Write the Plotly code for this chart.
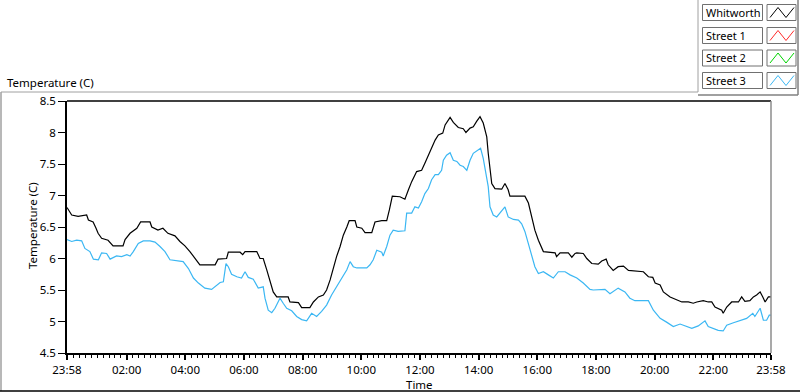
import pandas as pd
import plotly.graph_objects as go

# ---------------- data (hours elapsed since 23:58, temperature in C) ----------------
whitworth_hours = [0.00, 0.10, 0.16, 0.38, 0.67, 0.73, 0.89, 0.99, 1.06, 1.18, 1.40, 1.57, 1.91, 1.98,
                   2.15, 2.38, 2.51, 2.83, 2.89, 3.10, 3.27, 3.44, 3.68, 3.85, 4.02, 4.19, 4.36, 4.53,
                   5.05, 5.15, 5.44, 5.50, 5.90, 5.99, 6.07, 6.47, 6.58, 6.69, 6.81, 6.92, 7.03, 7.15,
                   7.54, 7.60, 7.89, 8.00, 8.28, 8.40, 8.57, 8.74, 8.85, 8.97, 9.08, 9.19, 9.31, 9.42,
                   9.54, 9.62, 9.82, 9.88, 10.05, 10.16, 10.39, 10.50, 10.73, 10.90, 10.99, 11.09,
                   11.35, 11.52, 11.64, 11.75, 11.92, 12.09, 12.20, 12.32, 12.43, 12.55, 12.66, 12.81,
                   12.89, 13.06, 13.17, 13.34, 13.51, 13.60, 13.74, 13.85, 13.97, 14.08, 14.19, 14.31,
                   14.36, 14.42, 14.48, 14.59, 14.82, 14.93, 15.04, 15.10, 15.61, 15.73, 15.84, 15.95,
                   16.07, 16.18, 16.24, 16.64, 16.69, 16.81, 17.09, 17.21, 17.32, 17.38, 17.60, 17.72,
                   17.89, 18.11, 18.23, 18.38, 18.45, 18.62, 18.79, 18.97, 19.14, 19.65, 19.82, 19.97,
                   20.05, 20.22, 20.33, 20.56, 20.79, 20.96, 21.18, 21.35, 21.47, 21.69, 21.86, 21.98,
                   22.09, 22.20, 22.32, 22.37, 22.49, 22.66, 22.89, 23.00, 23.11, 23.28, 23.40, 23.51,
                   23.63, 23.72, 23.80, 23.91, 24.00]
whitworth_temp = [6.81, 6.72, 6.69, 6.67, 6.69, 6.61, 6.58, 6.48, 6.40, 6.32, 6.29, 6.20, 6.20, 6.30,
                  6.40, 6.48, 6.58, 6.58, 6.50, 6.45, 6.48, 6.40, 6.36, 6.27, 6.20, 6.11, 6.00, 5.90,
                  5.90, 5.99, 6.00, 6.10, 6.10, 6.06, 6.11, 6.11, 6.00, 6.00, 5.82, 5.66, 5.47, 5.39,
                  5.39, 5.31, 5.30, 5.22, 5.22, 5.31, 5.39, 5.42, 5.50, 5.66, 5.87, 6.03, 6.19, 6.37,
                  6.50, 6.60, 6.60, 6.50, 6.48, 6.41, 6.41, 6.58, 6.60, 6.60, 6.77, 6.99,
                  6.98, 6.94, 7.09, 7.22, 7.38, 7.40, 7.51, 7.64, 7.75, 7.88, 7.96, 7.99,
                  8.12, 8.24, 8.16, 8.08, 8.06, 8.00, 8.07, 8.09, 8.18, 8.25, 8.15, 7.93,
                  7.67, 7.40, 7.19, 7.11, 7.10, 7.19, 7.09, 6.99, 6.99, 6.88, 6.66, 6.45,
                  6.29, 6.19, 6.11, 6.09, 6.03, 6.09, 6.09, 6.02, 6.08, 6.09, 6.08, 6.00,
                  5.92, 5.91, 5.96, 5.99, 5.90, 5.81, 5.87, 5.88, 5.81, 5.79, 5.71, 5.70,
                  5.61, 5.58, 5.47, 5.39, 5.34, 5.31, 5.31, 5.29, 5.31, 5.33, 5.31, 5.31,
                  5.23, 5.21, 5.18, 5.13, 5.23, 5.31, 5.31, 5.39, 5.32, 5.33, 5.39, 5.42,
                  5.47, 5.39, 5.31, 5.39, 5.39]

street3_hours = [0.00, 0.16, 0.33, 0.50, 0.61, 0.78, 0.90, 1.07, 1.18, 1.35, 1.47, 1.69, 1.86, 2.04,
                 2.15, 2.26, 2.43, 2.60, 2.83, 3.00, 3.17, 3.34, 3.51, 3.74, 3.96, 4.14, 4.31, 4.48,
                 4.70, 4.93, 5.05, 5.22, 5.33, 5.42, 5.50, 5.61, 5.79, 5.95, 6.07, 6.18, 6.35, 6.52,
                 6.69, 6.75, 6.86, 6.98, 7.09, 7.26, 7.37, 7.49, 7.66, 7.83, 8.00, 8.17, 8.34, 8.51,
                 8.68, 8.85, 9.02, 9.19, 9.36, 9.54, 9.65, 9.76, 9.88, 10.05, 10.22, 10.33, 10.44,
                 10.56, 10.73, 10.78, 10.90, 11.01, 11.12, 11.29, 11.52, 11.58, 11.75, 11.86, 11.98,
                 12.09, 12.20, 12.32, 12.43, 12.55, 12.66, 12.77, 12.83, 12.94, 13.06, 13.17, 13.29,
                 13.40, 13.51, 13.63, 13.74, 13.85, 14.02, 14.10, 14.19, 14.28, 14.36, 14.42, 14.53,
                 14.65, 14.76, 14.93, 15.04, 15.22, 15.39, 15.50, 15.61, 15.73, 15.84, 15.95, 16.07,
                 16.24, 16.41, 16.58, 16.75, 16.98, 17.15, 17.38, 17.60, 17.83, 17.94, 18.34, 18.51,
                 18.68, 18.79, 19.02, 19.19, 19.36, 19.82, 19.99, 20.22, 20.44, 20.67, 20.90, 21.07,
                 21.30, 21.52, 21.75, 21.86, 22.03, 22.20, 22.37, 22.49, 22.72, 22.94, 23.17, 23.38,
                 23.45, 23.63, 23.74, 23.85, 23.94, 24.00]
street3_temp = [6.30, 6.27, 6.29, 6.28, 6.16, 6.11, 5.99, 5.98, 6.09, 6.08, 5.99, 6.04, 6.03, 6.06,
                6.04, 6.11, 6.24, 6.28, 6.28, 6.26, 6.19, 6.11, 5.98, 5.97, 5.95, 5.84, 5.69, 5.61,
                5.53, 5.51, 5.55, 5.62, 5.63, 5.92, 5.87, 5.75, 5.71, 5.69, 5.79, 5.70, 5.67, 5.53,
                5.55, 5.37, 5.18, 5.14, 5.21, 5.37, 5.29, 5.21, 5.17, 5.08, 5.03, 5.01, 5.13, 5.08,
                5.16, 5.26, 5.42, 5.55, 5.66, 5.82, 5.95, 5.87, 5.85, 5.85, 5.85, 5.90, 5.98,
                6.13, 6.10, 6.04, 6.19, 6.37, 6.45, 6.43, 6.44, 6.72, 6.72, 6.82, 6.80,
                6.90, 7.03, 7.11, 7.25, 7.33, 7.33, 7.40, 7.56, 7.64, 7.68, 7.56, 7.54,
                7.48, 7.46, 7.40, 7.56, 7.67, 7.73, 7.75, 7.59, 7.38, 7.14, 6.82, 6.69,
                6.66, 6.72, 6.82, 6.66, 6.62, 6.61, 6.55, 6.43, 6.24, 6.03, 5.87, 5.76,
                5.79, 5.74, 5.69, 5.79, 5.79, 5.74, 5.69, 5.61, 5.51, 5.50, 5.51, 5.44,
                5.50, 5.53, 5.47, 5.37, 5.33, 5.33, 5.18, 5.05, 4.99, 4.92, 4.96, 4.93,
                4.89, 4.93, 5.01, 4.92, 4.89, 4.86, 4.85, 4.94, 4.98, 5.02, 5.05, 5.13,
                5.08, 5.21, 5.02, 5.02, 5.10, 5.10]

legend_names = ["Whitworth", "Street 1", "Street 2", "Street 3"]
legend_colors = ["#000000", "#ff2a2a", "#00d400", "#3bb7f3"]

x_tick_labels = ["23:58", "02:00", "04:00", "06:00", "08:00", "10:00", "12:00",
                 "14:00", "16:00", "18:00", "20:00", "22:00", "23:58"]
y_tick_values = [4.5, 5, 5.5, 6, 6.5, 7, 7.5, 8, 8.5]
y_tick_labels = ["4.5", "5", "5.5", "6", "6.5", "7", "7.5", "8", "8.5"]

chart_caption = "Temperature (C)"
x_title = "Time"
y_title = "Temperature (C)"

# ---------------- build ----------------
start = pd.Timestamp("2013-03-11 23:58")
end = start + pd.Timedelta(hours=24)
midnight = pd.Timestamp("2013-03-12 00:00")

whit_x = [start + pd.Timedelta(hours=h) for h in whitworth_hours]
s3_x = [start + pd.Timedelta(hours=h) for h in street3_hours]

tick_vals = [start] + [midnight + pd.Timedelta(hours=h) for h in range(2, 24, 2)] + [end]
minor_vals = [midnight + pd.Timedelta(minutes=12 * k) for k in range(1, 120)]

FONT = "Noto Sans"
FS = 11.5
W, H = 800, 392
L, R, T, B = 67, 771, 101, 353


def px(x):
    return (x - L) / (R - L)


def py(y):
    return (B - y) / (B - T)


fig = go.Figure()
fig.add_trace(go.Scatter(x=whit_x, y=whitworth_temp, mode="lines", name=legend_names[0],
                         line=dict(color=legend_colors[0], width=1.2), showlegend=False))
fig.add_trace(go.Scatter(x=s3_x, y=street3_temp, mode="lines", name=legend_names[3],
                         line=dict(color=legend_colors[3], width=1.2), showlegend=False))

shapes = []
annotations = []

# outer frame
shapes.append(dict(type="line", xref="paper", yref="paper", x0=px(1), x1=px(698), y0=py(92), y1=py(92),
                   line=dict(color="#a0a0a0", width=1)))
shapes.append(dict(type="line", xref="paper", yref="paper", x0=px(1), x1=px(1), y0=py(92), y1=py(391),
                   line=dict(color="#a0a0a0", width=1.5)))
shapes.append(dict(type="line", xref="paper", yref="paper", x0=px(0), x1=px(800), y0=py(391), y1=py(391),
                   line=dict(color="#000000", width=1.5)))
# plot frame: top black, right gray
shapes.append(dict(type="line", xref="paper", yref="paper", x0=0, x1=1, y0=1, y1=1,
                   line=dict(color="#000000", width=1.5)))
shapes.append(dict(type="line", xref="paper", yref="paper", x0=1, x1=1, y0=0, y1=1,
                   line=dict(color="#8c8c8c", width=1.5)))

# legend panel
shapes.append(dict(type="line", xref="paper", yref="paper", x0=px(698), x1=px(698), y0=py(0), y1=py(92),
                   line=dict(color="#a0a0a0", width=1)))
shapes.append(dict(type="line", xref="paper", yref="paper", x0=px(698), x1=px(798), y0=py(95), y1=py(95),
                   line=dict(color="#808080", width=1.5)))
shapes.append(dict(type="line", xref="paper", yref="paper", x0=px(798), x1=px(798), y0=py(0), y1=py(95),
                   line=dict(color="#808080", width=1.5)))

row_tops = [4.5, 27.5, 50.0, 72.5]
for name, color, top in zip(legend_names, legend_colors, row_tops):
    bot = top + 16
    shapes.append(dict(type="rect", xref="paper", yref="paper", x0=px(702.5), x1=px(762.5),
                       y0=py(bot), y1=py(top), fillcolor="white", line=dict(color="#707070", width=1)))
    shapes.append(dict(type="rect", xref="paper", yref="paper", x0=px(767), x1=px(796),
                       y0=py(bot), y1=py(top), fillcolor="white", line=dict(color="#707070", width=1)))
    zx = [770, 778, 786, 794]
    zy = [bot - 3, top + 3, bot - 3, top + 3]
    path = "M {} {}".format(px(zx[0]), py(zy[0])) + "".join(
        " L {} {}".format(px(a), py(b)) for a, b in zip(zx[1:], zy[1:]))
    shapes.append(dict(type="path", xref="paper", yref="paper", path=path,
                       line=dict(color=color, width=1)))
    annotations.append(dict(text=name, xref="paper", yref="paper", x=px(704), y=py(top + 8),
                            xanchor="left", yanchor="middle", showarrow=False,
                            font=dict(family=FONT, size=11, color="#000000")))

annotations.append(dict(text=chart_caption, xref="paper", yref="paper", x=px(5), y=py(82),
                        xanchor="left", yanchor="middle", showarrow=False,
                        font=dict(family=FONT, size=FS, color="#000000")))
annotations.append(dict(text=x_title, xref="paper", yref="paper", x=px(419), y=py(384),
                        xanchor="center", yanchor="middle", showarrow=False,
                        font=dict(family=FONT, size=FS, color="#000000")))
annotations.append(dict(text=y_title, xref="paper", yref="paper", x=px(32), y=py(226),
                        xanchor="center", yanchor="middle", showarrow=False, textangle=-90,
                        font=dict(family=FONT, size=FS, color="#000000")))

fig.update_layout(
    width=W, height=H, autosize=False,
    margin=dict(l=L, r=W - R, t=T, b=H - B, pad=0),
    paper_bgcolor="white", plot_bgcolor="white",
    showlegend=False,
    shapes=shapes, annotations=annotations,
    font=dict(family=FONT, size=FS, color="#000000"),
)
fig.update_xaxes(
    type="date", range=[start, end], showgrid=False, zeroline=False,
    showline=True, linecolor="#000000", linewidth=1.5,
    tickmode="array", tickvals=tick_vals, ticktext=x_tick_labels,
    ticks="outside", ticklen=5, tickwidth=1.5, tickcolor="#000000",
    tickfont=dict(family=FONT, size=FS, color="#000000"),
    minor=dict(tickmode="array", tickvals=minor_vals, ticks="outside", ticklen=3,
               tickwidth=1, tickcolor="#000000", showgrid=False),
)
fig.update_yaxes(
    range=[4.5, 8.5], showgrid=False, zeroline=False,
    showline=True, linecolor="#000000", linewidth=1.5,
    tickmode="array", tickvals=y_tick_values, ticktext=y_tick_labels,
    ticks="outside", ticklen=7, tickwidth=1, tickcolor="#000000",
    tickfont=dict(family=FONT, size=FS, color="#000000"),
)

fig.write_html("out.html", config={"displayModeBar": False},
               post_script="document.body.style.margin='0px';document.body.style.overflow='hidden';")
